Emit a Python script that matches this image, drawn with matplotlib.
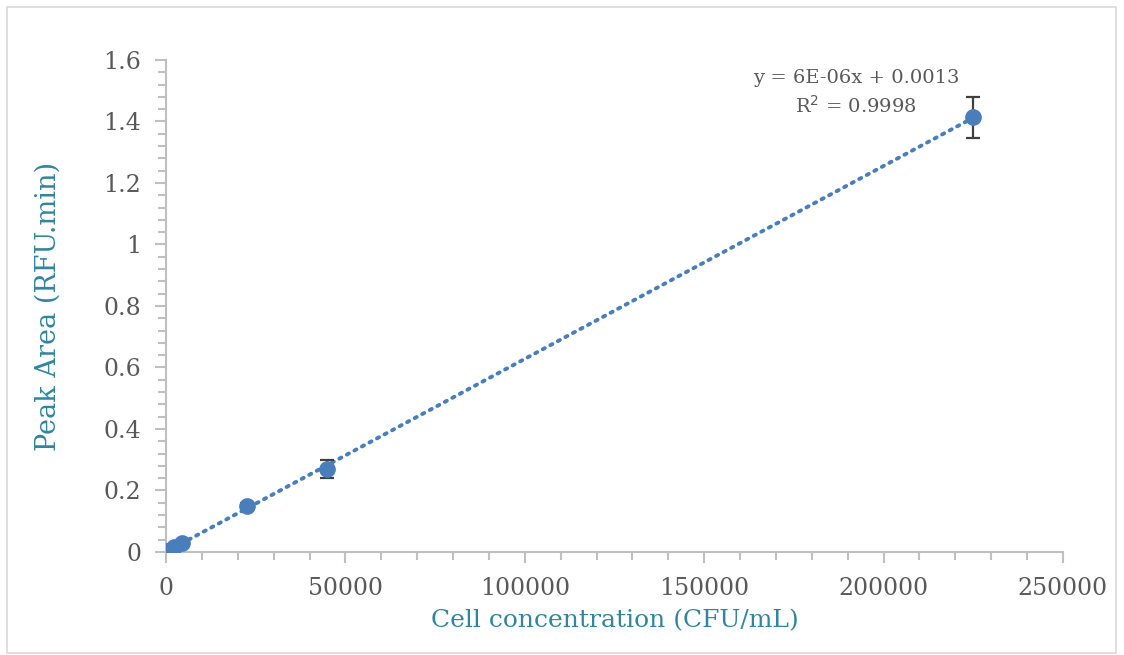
import numpy as np
import matplotlib.pyplot as plt
from matplotlib.patches import Rectangle
from matplotlib.ticker import MultipleLocator, FuncFormatter

# calibration data: cell concentration vs. peak area
conc = [45, 225, 450, 2250, 4500, 22500, 45000, 225000]
area = [0.0005, 0.002, 0.004, 0.015, 0.030, 0.150, 0.270, 1.414]
area_err = [0.001, 0.001, 0.001, 0.003, 0.004, 0.010, 0.030, 0.067]

eq_text = "y = 6E-06x + 0.0013\nR$^2$ = 0.9998"

plt.rcParams['font.family'] = 'DejaVu Serif'
blue = '#4a7ebb'
teal = '#31859c'
grey_txt = '#595959'
grey_ax = '#bfbfbf'

fig = plt.figure(figsize=(11.24, 6.55), dpi=100)
ax = fig.add_axes([0.1477, 0.1573, 0.798, 0.7511])

# linear trendline through the points
coef = np.polyfit(conc, area, 1)
xs = np.linspace(0, max(conc), 200)
ax.plot(xs, np.polyval(coef, xs), linestyle=(0, (0.6, 1.6)), color=blue,
        lw=2.8, dash_capstyle='round', zorder=2)

ax.errorbar(conc, area, yerr=area_err, fmt='o', color=blue, ms=11,
            ecolor='#404040', elinewidth=1.6, capsize=5, capthick=1.6, zorder=3)

ax.set_xlim(0, 250000)
ax.set_ylim(0, 1.6)
ax.xaxis.set_major_locator(MultipleLocator(50000))
ax.xaxis.set_minor_locator(MultipleLocator(10000))
ax.yaxis.set_major_locator(MultipleLocator(0.2))
ax.yaxis.set_minor_locator(MultipleLocator(0.04))
ax.yaxis.set_major_formatter(FuncFormatter(lambda v, p: '%g' % round(v, 2)))

for s in ['top', 'right']:
    ax.spines[s].set_visible(False)
for s in ['left', 'bottom']:
    ax.spines[s].set_color(grey_ax)
    ax.spines[s].set_linewidth(1.5)
ax.tick_params(which='both', color=grey_ax, width=1.5, direction='out')
ax.tick_params(which='major', length=8, labelsize=17, labelcolor=grey_txt, pad=10)
ax.tick_params(which='minor', length=6)

ax.set_xlabel('Cell concentration (CFU/mL)', fontsize=18, color=teal, labelpad=7)
ax.set_ylabel('Peak Area (RFU.min)', fontsize=19.5, color=teal, labelpad=30)

ax.text(0.7616, 0.895, eq_text, transform=fig.transFigure, ha='center', va='top',
        fontsize=14, color=grey_txt, linespacing=1.45)

# light frame around the whole chart area
fig.patches.append(Rectangle((0.0062, 0.003), 0.987, 0.986, transform=fig.transFigure,
                             fill=False, edgecolor='#d9d9d9', lw=1.2))

fig.savefig('out.png', dpi=100)
